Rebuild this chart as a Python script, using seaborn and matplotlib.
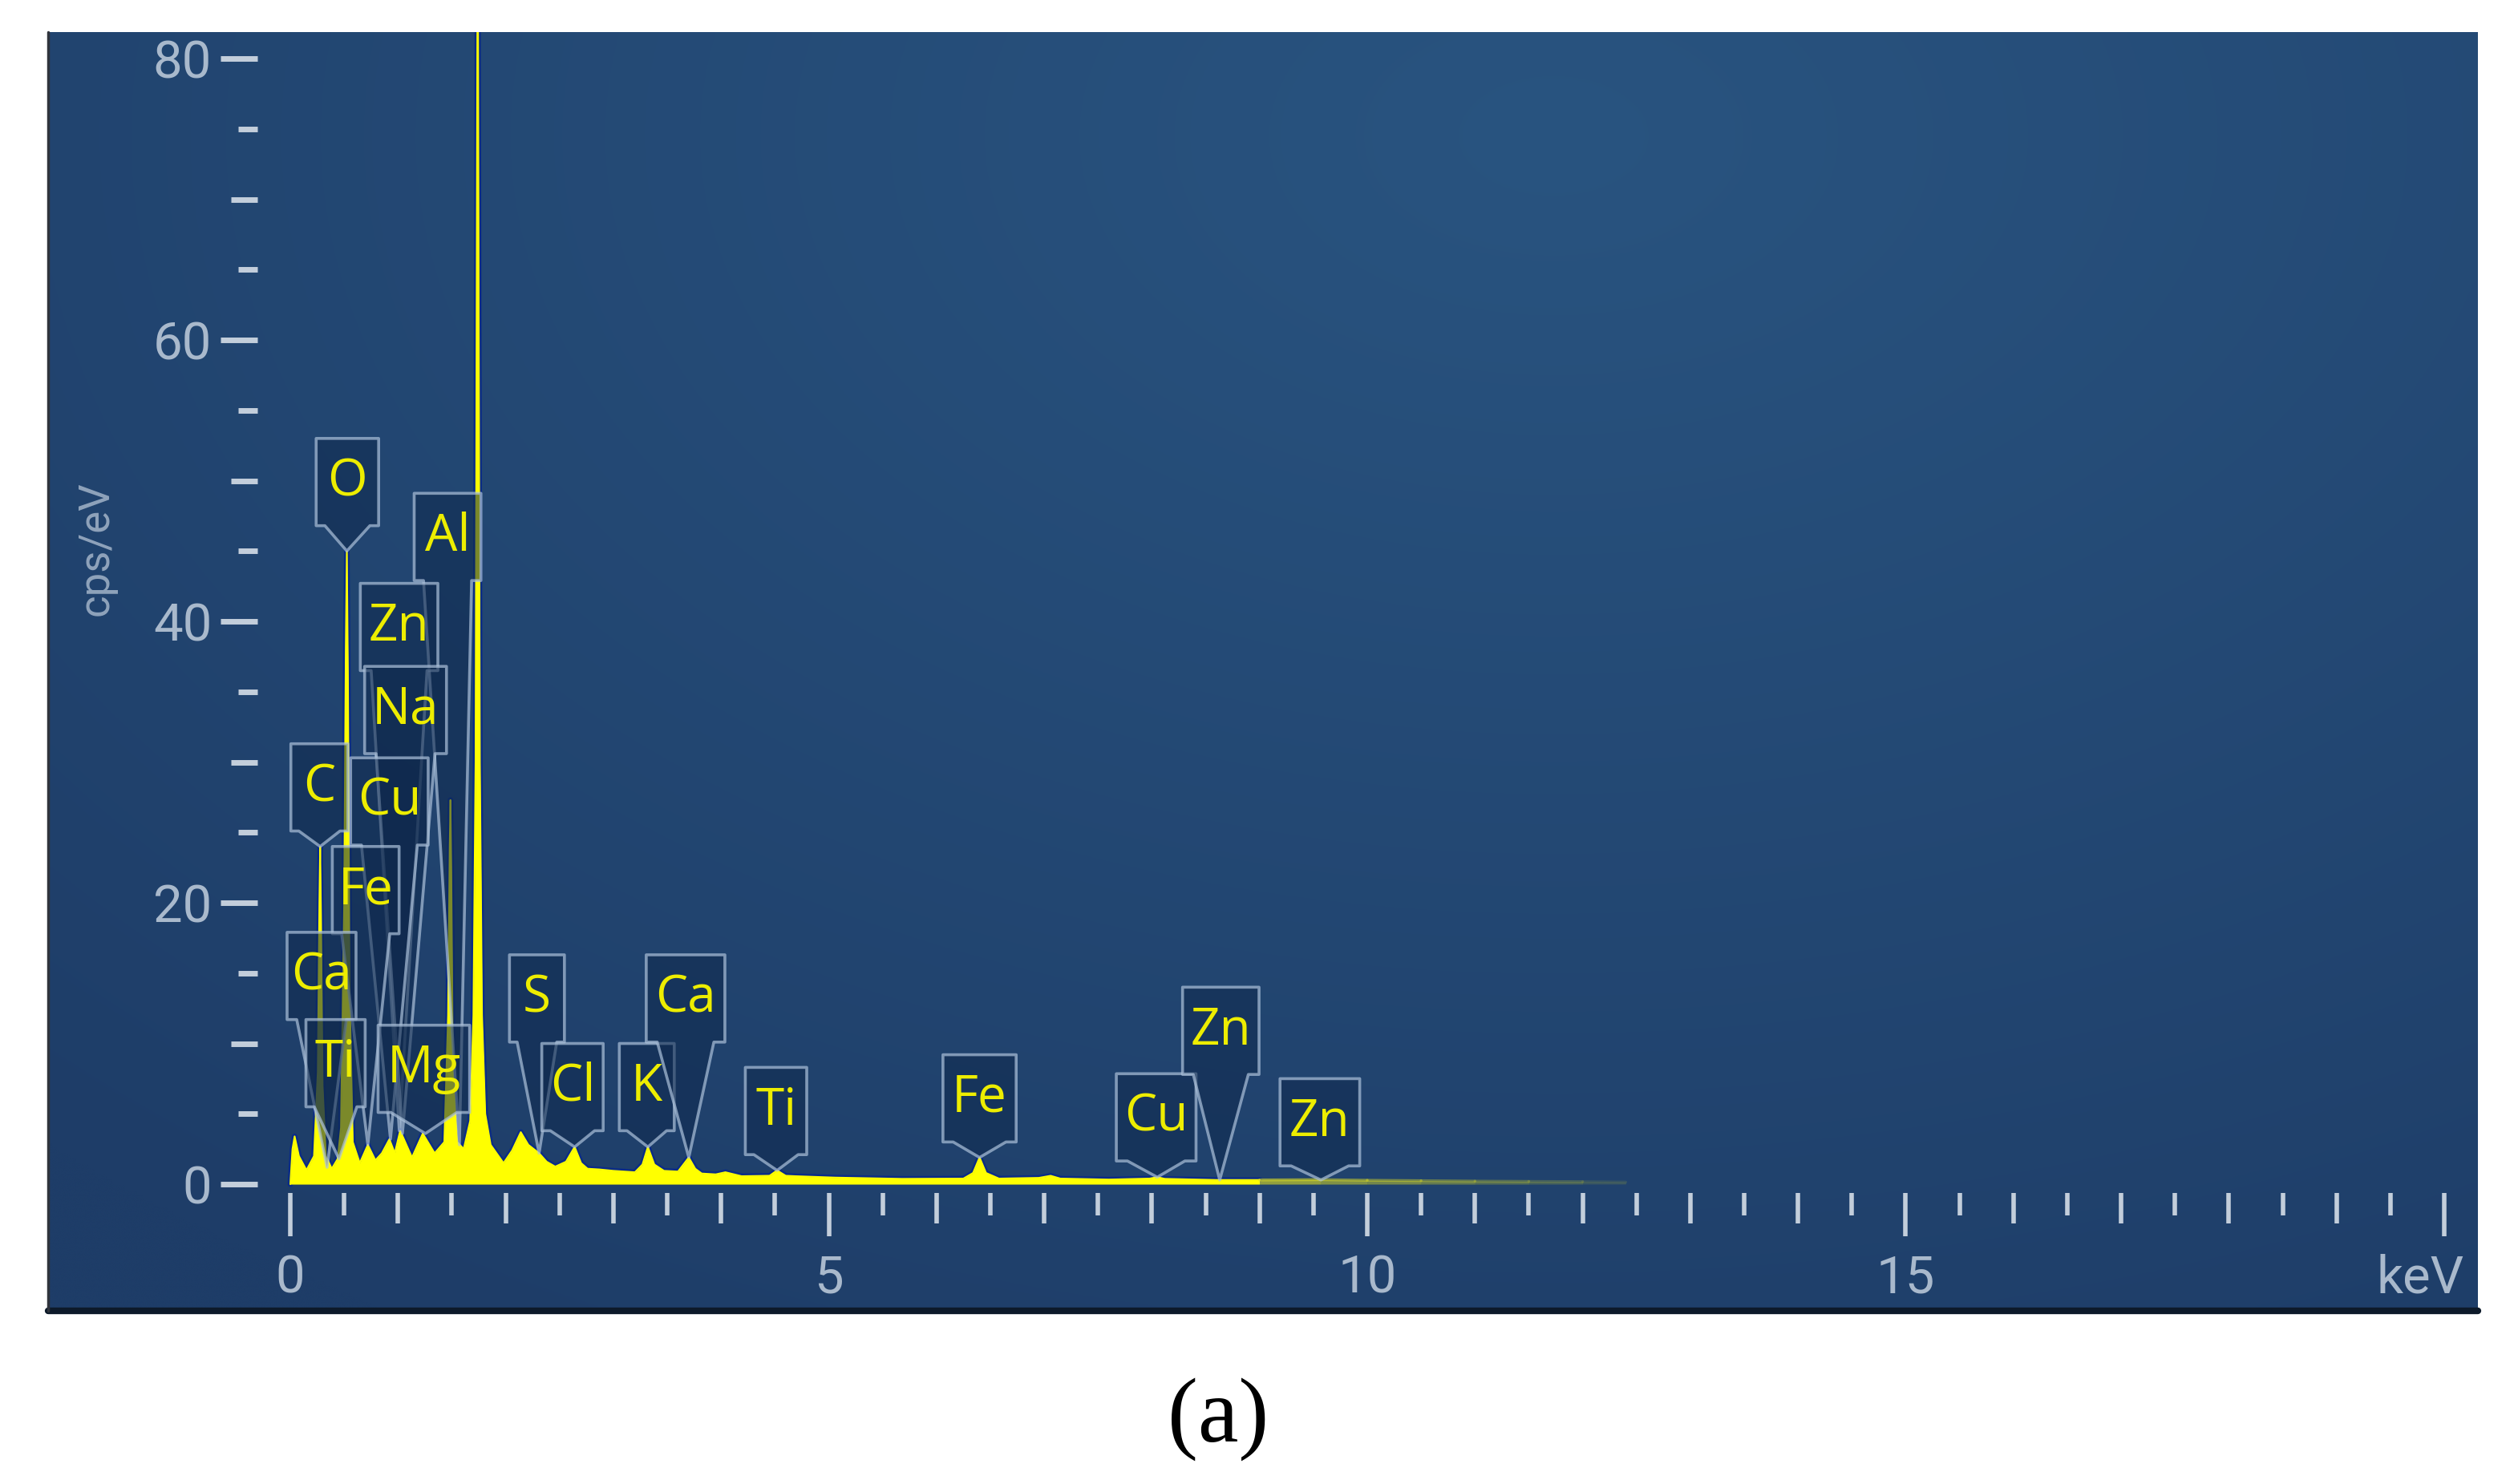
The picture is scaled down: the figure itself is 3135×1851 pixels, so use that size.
import numpy as np
import pandas as pd
import seaborn as sns
import matplotlib.pyplot as plt
from matplotlib.patches import Polygon
from matplotlib.colors import to_rgb
import matplotlib.transforms as mtransforms

# EDS spectrum (energy in keV, counts in cps/eV)
spec_kev = [0.00, 0.02, 0.04, 0.08, 0.15, 0.22, 0.255, 0.27, 0.277, 0.285, 0.30, 0.33,
            0.385, 0.44, 0.47, 0.50, 0.515, 0.525, 0.535, 0.55, 0.58, 0.645, 0.72, 0.79,
            0.85, 0.92, 0.97, 1.02, 1.13, 1.23, 1.34, 1.43, 1.465, 1.48, 1.487, 1.495,
            1.51, 1.55, 1.61, 1.67, 1.70, 1.72, 1.73, 1.74, 1.75, 1.76, 1.78, 1.81, 1.86,
            1.98, 2.06, 2.14, 2.21, 2.31, 2.38, 2.46, 2.56, 2.64, 2.70, 2.76, 2.87, 3.00,
            3.20, 3.27, 3.32, 3.38, 3.47, 3.60, 3.70, 3.76, 3.82, 3.95, 4.04, 4.19, 4.45,
            4.52, 4.60, 4.69, 5.06, 5.68, 6.25, 6.34, 6.40, 6.46, 6.58, 6.95, 7.06, 7.15,
            7.60, 7.98, 8.05, 8.12, 8.60, 9.00, 9.57, 10.0, 10.5, 11.0, 11.5, 12.0, 12.4]
spec_cps = [0.0, 2.5, 3.4, 2.0, 1.0, 2.0, 8.0, 20.0, 24.0, 19.0, 7.0, 2.0,
            1.1, 1.8, 4.0, 20.0, 38.0, 45.0, 36.0, 14.0, 3.0, 1.5, 2.8, 1.7,
            2.2, 3.2, 2.2, 3.8, 1.9, 3.6, 2.2, 3.0, 12.0, 24.0, 27.3, 22.0,
            8.0, 3.0, 2.5, 4.5, 12.0, 30.0, 62.0, 92.0, 60.0, 30.0, 12.0, 5.0, 2.8,
            1.5, 2.4, 3.7, 2.8, 2.2, 1.6, 1.25, 1.6, 2.65, 1.5, 1.1, 1.05, 0.95,
            0.85, 1.4, 2.65, 1.4, 0.95, 0.9, 1.9, 1.1, 0.76, 0.7, 0.85, 0.57, 0.6,
            0.98, 0.6, 0.57, 0.47, 0.38, 0.4, 0.8, 1.9, 0.8, 0.4, 0.45, 0.6, 0.4,
            0.33, 0.4, 0.5, 0.38, 0.3, 0.3, 0.32, 0.28, 0.25, 0.22, 0.2, 0.18, 0.15]

# peak labels: box centre / box bottom / box width, and where the pointer ends
lab_text = ['O', 'Al', 'Zn', 'Na', 'C', 'Cu', 'Fe', 'Ca', 'Ti', 'Mg',
            'S', 'Cl', 'K', 'Ca', 'Ti', 'Fe', 'Cu', 'Zn', 'Zn']
lab_kev = [0.53, 1.46, 1.01, 1.07, 0.27, 0.92, 0.70, 0.29, 0.42, 1.24,
           2.29, 2.62, 3.31, 3.67, 4.51, 6.40, 8.04, 8.64, 9.56]
lab_bottom = [46.8, 42.9, 36.5, 30.6, 25.1, 24.1, 17.8, 11.7, 5.5, 5.1,
              10.1, 3.8, 3.8, 10.1, 2.1, 3.0, 1.65, 7.8, 1.3]
lab_width = [0.58, 0.62, 0.72, 0.76, 0.53, 0.72, 0.62, 0.64, 0.55, 0.85,
             0.51, 0.57, 0.51, 0.73, 0.57, 0.68, 0.74, 0.71, 0.74]
tip_kev = [0.525, 1.57, 1.012, 1.041, 0.277, 0.93, 0.72, 0.341, 0.452, 1.254,
           2.31, 2.64, 3.32, 3.70, 4.52, 6.40, 8.05, 8.63, 9.57]
tip_cps = [45.0, 2.8, 3.8, 3.6, 24.0, 3.2, 2.8, 1.2, 1.8, 3.6,
           2.2, 2.65, 2.65, 1.9, 0.98, 1.9, 0.5, 0.3, 0.3]

y_major = [0, 20, 40, 60, 80]
y_mid = [10, 30, 50, 70]
y_small = [5, 15, 25, 35, 45, 55, 65, 75]
x_major = [0, 5, 10, 15, 20]
x_major_labels = ['0', '5', '10', '15', 'keV']
x_mid = [1, 2, 3, 4, 6, 7, 8, 9, 11, 12, 13, 14, 16, 17, 18, 19]
x_small = [0.5 + i for i in range(20)]

sns.set_theme(style="ticks")
plt.rcParams['font.family'] = ['Roboto', 'DejaVu Sans']

W, H = 3135, 1851
fig = plt.figure(figsize=(W / 100, H / 100), dpi=100)
fig.patch.set_facecolor('white')
ax = fig.add_axes([60 / W, 1 - 1635 / H, 3030 / W, 1595 / H])

# panel background: soft radial gradient
gx, gy = np.meshgrid(np.linspace(0, 1, 400), np.linspace(0, 1, 240))
d = np.sqrt(((gx - 0.62) / 1.0) ** 2 + ((gy - 0.92) / 1.2) ** 2)
d = np.clip(d / 0.9, 0, 1)
c_in, c_out = np.array(to_rgb('#295480')), np.array(to_rgb('#1e3d68'))
bg = c_in[None, None, :] * (1 - d[..., None]) + c_out[None, None, :] * d[..., None]
ax.imshow(bg, extent=[0, 1, 0, 1], transform=ax.transAxes, origin='lower',
          aspect='auto', zorder=0, interpolation='bicubic')

XL, XR = -2.249, 20.313
YB, YT = -9.0, 81.88
ax.set_xlim(XL, XR)
ax.set_ylim(YB, YT)

# spectrum
df = pd.DataFrame({'keV': spec_kev, 'cps': spec_cps})
solid = df[df['keV'] <= 9.0]
sns.lineplot(data=solid, x='keV', y='cps', ax=ax, color='#0b2c86', lw=5,
             estimator=None, sort=False, zorder=2)
ax.fill_between(solid['keV'], 0, solid['cps'], color='#ffff00', lw=0, zorder=3)
ax.plot(solid['keV'], solid['cps'], color='#ffff00', lw=1.5, zorder=3)
fade = df[df['keV'] >= 9.0].reset_index(drop=True)
for i in range(len(fade) - 1):
    a = max(0.05, 0.6 - 0.55 * (fade['keV'][i] - 9.0) / 3.4)
    seg = fade.iloc[i:i + 2]
    ax.fill_between(seg['keV'], 0, seg['cps'], color='#e0e020', alpha=a, lw=0, zorder=3)
    ax.plot(seg['keV'], seg['cps'], color='#e0e020', alpha=a, lw=2.5, zorder=3)

# peak labels
box_h = 6.2
box_fc = (0.06, 0.16, 0.30, 0.55)
box_ec = (0.68, 0.76, 0.86, 0.7)
for name, cx, bot, w, tx, ty in zip(lab_text, lab_kev, lab_bottom, lab_width, tip_kev, tip_cps):
    top = bot + box_h
    left, right = cx - w / 2, cx + w / 2
    tw = 0.36 * w
    verts = [(left, top), (right, top), (right, bot), (cx + tw, bot), (tx, ty),
             (cx - tw, bot), (left, bot)]
    ax.add_patch(Polygon(verts, closed=True, fc=box_fc, ec=box_ec, lw=2.6,
                         joinstyle='round', zorder=5))
    ax.text(cx, bot + box_h / 2, name, color='#eded00', fontsize=46, ha='center',
            va='center', family=['Open Sans', 'DejaVu Sans'], weight='medium', zorder=6)

# axes: spines hidden, ticks placed inside the panel
tick_c = '#c3cedb'
lab_c = '#a9b9cc'
ax.spines['left'].set_position(('data', -0.305))
ax.spines['bottom'].set_position(('data', -0.6))
for s in ax.spines.values():
    s.set_color('none')
ax.set_yticks(y_major)
ax.set_yticks(y_small, minor=True)
ax.set_xticks(x_major, x_major_labels)
ax.set_xticks(x_small, minor=True)
ax.tick_params(axis='y', which='major', left=True, direction='out', length=33, width=5,
               color=tick_c, labelsize=47, labelcolor=lab_c, pad=8)
ax.tick_params(axis='y', which='minor', left=True, direction='out', length=17, width=5,
               color=tick_c)
ax.tick_params(axis='x', which='major', bottom=True, direction='out', length=39, width=4,
               color=tick_c, labelsize=47, labelcolor=lab_c, pad=16)
ax.tick_params(axis='x', which='minor', bottom=True, direction='out', length=20, width=4,
               color=tick_c)
ax.grid(False)

# "keV" sits a little left of the last tick
lbl = ax.get_xticklabels()[-1]
lbl.set_transform(lbl.get_transform() + mtransforms.ScaledTranslation(-0.3, 0, fig.dpi_scale_trans))

# middle-length ticks via secondary axes at the same positions
sy = ax.secondary_yaxis((-0.305 - XL) / (XR - XL))
sy.set_yticks(y_mid)
sy.tick_params(axis='y', which='major', left=True, right=False, direction='out', length=24,
               width=5, color=tick_c, labelleft=False, labelright=False)
sy.tick_params(axis='y', which='minor', left=False, right=False)
for s in sy.spines.values():
    s.set_color('none')
sx = ax.secondary_xaxis((-0.6 - YB) / (YT - YB))
sx.set_xticks(x_mid)
sx.tick_params(axis='x', which='major', bottom=True, top=False, direction='out', length=27,
               width=4, color=tick_c, labelbottom=False, labeltop=False)
sx.tick_params(axis='x', which='minor', bottom=False, top=False)
for s in sx.spines.values():
    s.set_color('none')

ax.set_xlabel('')
ax.set_ylabel('cps/eV', fontsize=38, color='#8fa3bb')
ax.yaxis.set_label_coords((146 - 60) / 3030, (1635 - 684) / 1595)

# panel edge shading
ax.plot([0, 1], [0, 0], transform=ax.transAxes, color='#0d1a2a', lw=6, zorder=10, clip_on=False)
ax.plot([0, 0], [0, 1], transform=ax.transAxes, color='#30343c', lw=2.5, zorder=10, clip_on=False)

fig.text(1519 / W, 1 - 1770 / H, '(a)', fontsize=82, family=['Liberation Serif', 'DejaVu Serif'],
         ha='center', va='center', color='black')

fig.savefig('out.png', dpi=100, facecolor='white')
